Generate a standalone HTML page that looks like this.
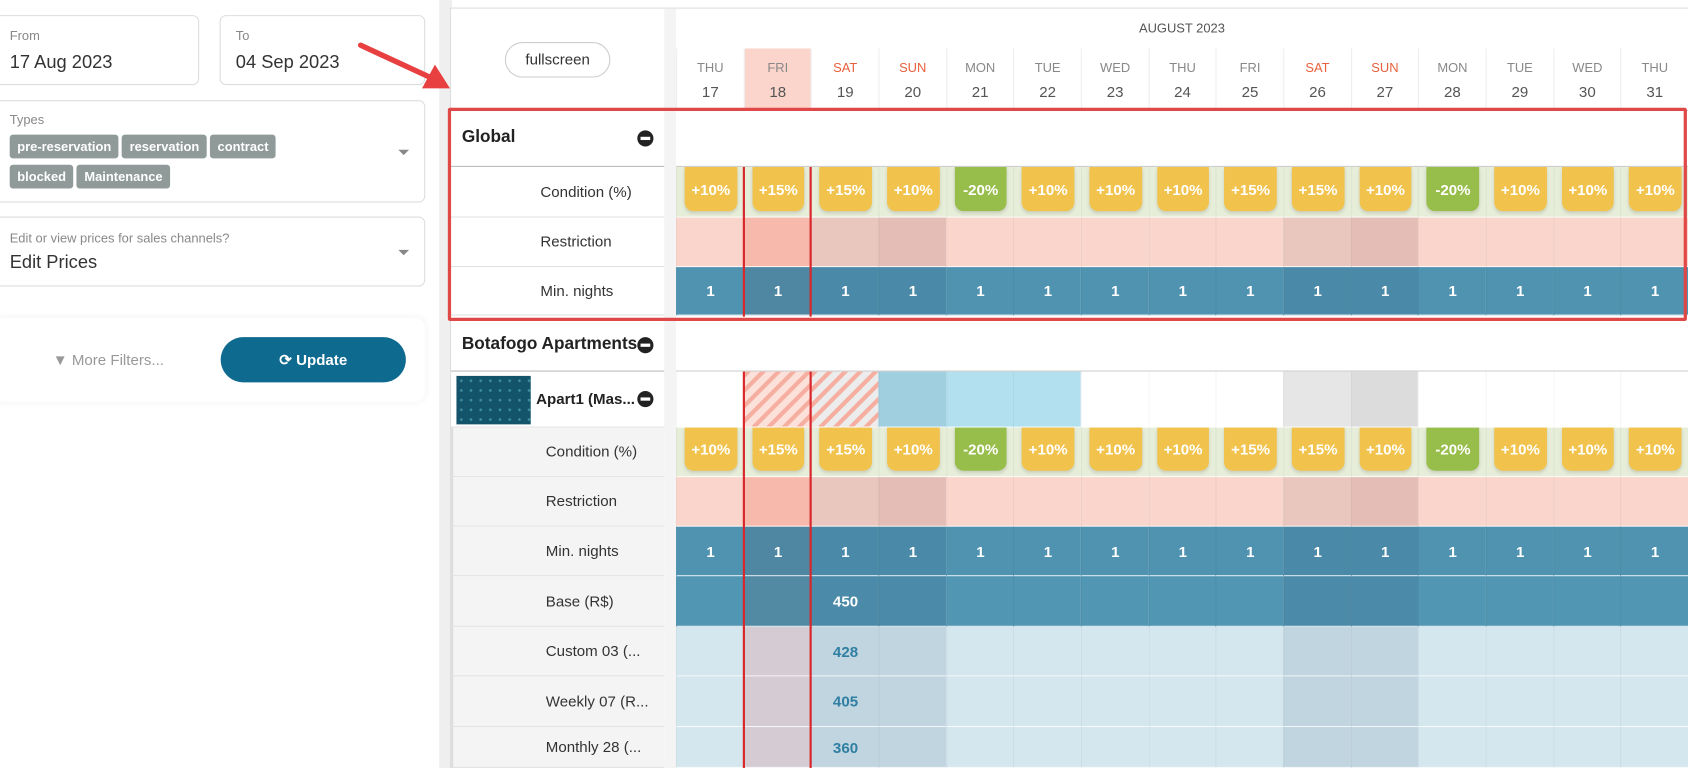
<!DOCTYPE html>
<html><head><meta charset="utf-8">
<style>
*{box-sizing:border-box;margin:0;padding:0}
html,body{width:1688px;height:768px;overflow:hidden;background:#fff;font-family:"Liberation Sans",sans-serif}
#wrap{position:absolute;left:0;top:0;width:1568px;height:713px;transform:scale(1.07653,1.0771);transform-origin:0 0}
.abs{position:absolute}
.box{position:absolute;border:1px solid #ddd;border-radius:6px;background:#fff}
.lbl{position:absolute;font-size:12px;color:#888}
.val{position:absolute;font-size:17px;color:#333}
.chip{display:inline-block;background:#8f9a99;color:#fff;font-weight:bold;font-size:12px;height:22px;line-height:22px;padding:0 7px;border-radius:3px;margin:0 3px 6px 0;vertical-align:top}
.caret{position:absolute;width:0;height:0;border-left:5px solid transparent;border-right:5px solid transparent;border-top:5px solid #888}
.rowlbl{position:absolute;left:419px;width:198px;font-size:14px;color:#333;border-bottom:1px solid #e2e2e2}
.cell{position:absolute;display:flex;align-items:center;justify-content:center;font-weight:bold;color:#fff;font-size:14px}
.minus{position:absolute;width:15px;height:15px;border-radius:50%;background:#222}
.minus:after{content:"";position:absolute;left:3px;top:6px;width:9px;height:3px;background:#fff}
</style></head><body>
<div id="wrap">
 <div class="box" style="left:-6px;top:14px;width:191px;height:65px">
  <div class="lbl" style="left:14px;top:11px">From</div><div class="val" style="left:14px;top:33px">17 Aug 2023</div></div>
 <div class="box" style="left:204px;top:14px;width:191px;height:65px">
  <div class="lbl" style="left:14px;top:11px">To</div><div class="val" style="left:14px;top:33px">04 Sep 2023</div></div>
 <div class="box" style="left:-6px;top:93px;width:401px;height:95px">
  <div class="lbl" style="left:14px;top:10px">Types</div>
  <div class="abs" style="left:14px;top:31px;width:300px;font-size:0">
   <span class="chip">pre-reservation</span><span class="chip">reservation</span><span class="chip">contract</span><br><span class="chip">blocked</span><span class="chip">Maintenance</span></div>
  <div class="caret" style="left:375px;top:45px"></div></div>
 <div class="box" style="left:-6px;top:201px;width:401px;height:65px">
  <div class="lbl" style="left:14px;top:12px">Edit or view prices for sales channels?</div>
  <div class="val" style="left:14px;top:32px">Edit Prices</div>
  <div class="caret" style="left:375px;top:30px"></div></div>
 <div class="abs" style="left:-6px;top:295px;width:401px;height:78px;border-radius:10px;box-shadow:0 0 8px rgba(0,0,0,0.06);background:#fff">
  <div class="abs" style="left:55px;top:31px;font-size:14px;color:#999">&#9660; More Filters...</div>
  <div class="abs" style="left:211px;top:18px;width:172px;height:42px;border-radius:21px;background:#0e6a8f;color:#fff;font-size:14px;font-weight:bold;text-align:center;line-height:42px">&#10227; Update</div></div>
 <div class="abs" style="left:408px;top:0;width:12px;height:713px;background:#efefef"></div>
 <div class="abs" style="left:418px;top:7px;width:1150px;height:706px;border-top:1px solid #ddd;border-left:1px solid #ddd;background:#fff"></div>
 <div class="abs" style="left:469px;top:39px;width:98px;height:33px;border:1px solid #ccc;border-radius:17px;text-align:center;line-height:31px;font-size:14px;color:#333">fullscreen</div>
 <div class="abs" style="left:617px;top:8px;width:11px;height:705px;background:#f4f4f4"></div>
 <div class="abs" style="left:1058px;top:19px;font-size:12px;color:#555">AUGUST 2023</div>
 <div id="labels"></div>
 <div id="grid"></div>
 <div class="abs" style="left:416px;top:100px;width:1151px;height:198px;border:3px solid #e04848;border-radius:2px"></div>
 <svg class="abs" style="left:320px;top:30px" width="100" height="60"><line x1="15" y1="12" x2="80" y2="42" stroke="#e84040" stroke-width="5" stroke-linecap="round"/><polygon points="98,52 72,52 84,30" fill="#e84040"/></svg>
</div>
<script>
const days=[17,18,19,20,21,22,23,24,25,26,27,28,29,30,31];
const dayNames=["THU","FRI","SAT","SUN","MON","TUE","WED","THU","FRI","SAT","SUN","MON","TUE","WED","THU"];
const conditions=[10,15,15,10,-20,10,10,10,15,15,10,-20,10,10,10];
const minNights=[1,1,1,1,1,1,1,1,1,1,1,1,1,1,1];
const basePrice=[null,null,450,null,null,null,null,null,null,null,null,null,null,null,null];
const custom03=[null,null,428,null,null,null,null,null,null,null,null,null,null,null,null];
const weekly07=[null,null,405,null,null,null,null,null,null,null,null,null,null,null,null];
const monthly28=[null,null,360,null,null,null,null,null,null,null,null,null,null,null,null];
const availability=["w","red","gray","blue2","blue","blue","w","w","w","g1","g2","w","w","w","w"];

const X0=628,CW=(1568-628)/days.length;
const colX=i=>X0+i*CW;
const grid=document.getElementById('grid'),labels=document.getElementById('labels');
function mk(parent,css,cls){const d=document.createElement('div');d.className=cls||'abs';d.style.cssText=css;parent.appendChild(d);return d;}
function kind(i){const n=dayNames[i];if(i===1)return 'fri';if(n==='SAT'||n==='SUN')return 'we';return 'n';}
days.forEach((d,i)=>{
  const k=kind(i);
  const h=mk(grid,`left:${colX(i)}px;top:45px;width:${CW}px;height:58px;border-left:1px solid #eee;text-align:center;${k==='fri'?'background:#fbd5cc;border-bottom:2px solid #d33;':''}`);
  
  
  const we=dayNames[i]==='SAT'||dayNames[i]==='SUN';
  h.innerHTML=`<div style="margin-top:11px;font-size:12px;color:${we?'#e8603c':'#888'}">${dayNames[i]}</div><div style="margin-top:7px;font-size:14px;color:#555">${d}</div>`;
});
mk(grid,`left:628px;top:102px;width:940px;height:1px;background:#ccc`);
const rows=[
 {n:'Global',t:103,h:52,type:'group'},
 {n:'Condition (%)',t:155,h:47,type:'cond'},
 {n:'Restriction',t:202,h:46,type:'restr'},
 {n:'Min. nights',t:248,h:45,type:'min'},
 {n:'Botafogo Apartments',t:296,h:49,type:'group'},
 {n:'Apart1 (Mas...',t:345,h:52,type:'unit'},
 {n:'Condition (%)',t:397,h:46,type:'cond'},
 {n:'Restriction',t:443,h:46,type:'restr'},
 {n:'Min. nights',t:489,h:46,type:'min'},
 {n:'Base (R$)',t:535,h:47,type:'base',vals:basePrice},
 {n:'Custom 03 (...',t:582,h:46,type:'light',vals:custom03},
 {n:'Weekly 07 (R...',t:628,h:47,type:'light',vals:weekly07},
 {n:'Monthly 28 (...',t:675,h:38,type:'light',vals:monthly28},
];
const sub=r=>r.t>=397;
rows.forEach((r,ri)=>{
  const L=mk(labels,`top:${r.t}px;height:${r.h}px;${sub(r)?'background:#f4f4f4;border-left:2px solid #ddd;':''}`,'rowlbl');
  
  
  if(r.type==='group'){L.innerHTML=`<div style="position:absolute;left:10px;top:${r.h/2-10}px;font-size:16px;font-weight:bold;color:#222">${r.n}</div><div class="minus" style="left:173px;top:${r.h/2-8}px"></div>`;L.style.borderBottom='1px solid #bbb';}
  else if(r.type==='unit'){L.innerHTML=`<div style="position:absolute;left:5px;top:4px;width:69px;height:45px;background:#14546a;background-image:radial-gradient(#3d8ea0 1px,transparent 1.5px);background-size:9px 9px"></div><div style="position:absolute;left:79px;top:${r.h/2-9}px;font-size:14px;font-weight:bold;color:#222">${r.n}</div><div class="minus" style="left:173px;top:${r.h/2-8}px"></div>`;}
  else L.innerHTML=`<div style="position:absolute;left:${sub(r)?86:83}px;top:${r.h/2-9}px">${r.n}</div>`;
  if(r.type==='group'){mk(grid,`left:628px;top:${r.t+r.h-1}px;width:940px;height:1px;background:#ccc`);return;}
  days.forEach((d,i)=>{
    const k=kind(i);let bg='#fff',txt='',col='#fff',extra='';
    if(r.type==='cond'){bg='#e6edd8';}
    else if(r.type==='restr'){bg=k==='fri'?'#f7b9ab':k==='we'?(dayNames[i]==='SUN'?'#e3bdb6':'#e9c7be'):'#f9d5cb';}
    else if(r.type==='min'){bg=k==='fri'?'#4f87a2':k==='we'?'#4a8aa8':'#4f93b0';txt=minNights[i];}
    else if(r.type==='base'){bg=k==='fri'?'#5289a3':k==='we'?'#4b8aa8':'#5196b3';txt=r.vals[i]??'';}
    else if(r.type==='light'){bg=k==='fri'?'#d4ccd2':k==='we'?'#c0d5df':'#d4e6ee';txt=r.vals[i]??'';col='#2f7fa3';}
    else if(r.type==='unit'){const a=availability[i];
      bg={w:'#fff',blue:'#b3e0ee',blue2:'#a0cfe0',g1:'#e6e6e6',g2:'#dcdcdc'}[a]||'#fff';
      if(a==='red')extra='background:repeating-linear-gradient(135deg,#f5aea0 0 4px,#fbe1da 4px 10px);';
      if(a==='gray')extra='background:repeating-linear-gradient(135deg,#f5aea0 0 4px,#ececec 4px 10px);';}
    const c=mk(grid,`left:${colX(i)}px;top:${r.t}px;width:${CW+0.5}px;height:${r.h}px;background:${bg};${extra}color:${col};border-bottom:1px solid rgba(255,255,255,.8);border-left:1px solid rgba(0,0,0,.04)`,'cell');
    
    
    if(r.type==='cond'){const v=conditions[i];
      const b=mk(c,`left:7px;top:0;width:${CW-14}px;height:${r.h-6}px;border-radius:0 0 8px 8px;background:${v<0?'#97bd4a':'#f2c34c'};display:flex;align-items:center;justify-content:center;box-shadow:0 2px 3px rgba(0,0,0,.12)`);
      
      
      b.textContent=(v>0?'+':'')+v+'%';}
    else c.textContent=txt;
  });
});
[[155,294],[345,713]].forEach(([a,b])=>{[1,2].forEach(j=>{const l=mk(grid,`left:${colX(j)-1}px;top:${a}px;width:2px;height:${b-a}px;background:#d8262a`);});});
</script>
</body></html>
